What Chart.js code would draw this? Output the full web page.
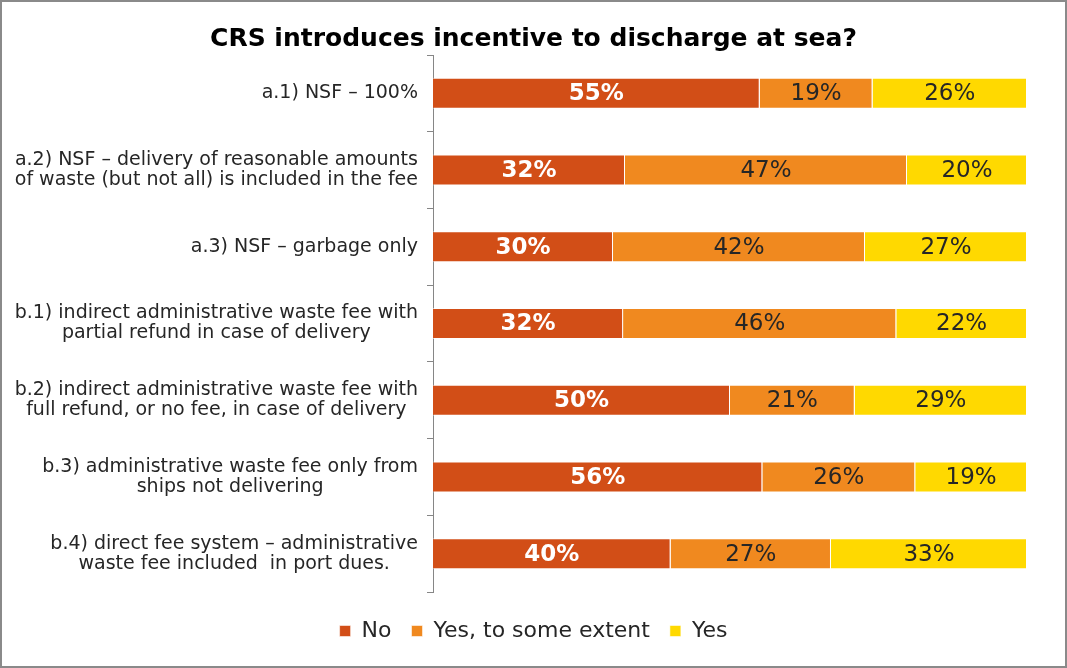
<!DOCTYPE html>
<html>
<head>
<meta charset="utf-8">
<script src="https://cdn.jsdelivr.net/npm/chart.js@4"></script>
<style>
  html, body { margin: 0; padding: 0; background: #fff; }
  #frame {
    width: 1067px; height: 668px; box-sizing: border-box;
    border: 2px solid #8a8a8a; background: #fff; position: relative;
  }
  #wrap { width: 1063px; height: 664px; position: relative; }
</style>
</head>
<body>
<div id="frame"><div id="wrap"><canvas id="chart"></canvas></div></div>
<script>
// categories (multi-line labels) and the percentages shown on the bars
const categories = [
    ['a.1) NSF – 100%'],
    ['a.2) NSF – delivery of reasonable amounts', 'of waste (but not all) is included in the fee'],
    ['a.3) NSF – garbage only'],
    ['b.1) indirect administrative waste fee with', 'partial refund in case of delivery'],
    ['b.2) indirect administrative waste fee with', 'full refund, or no fee, in case of delivery'],
    ['b.3) administrative waste fee only from', 'ships not delivering'],
    ['b.4) direct fee system – administrative', 'waste fee included  in port dues.']
];
const seriesNames = ['No', 'Yes, to some extent', 'Yes'];
const noValues = [55, 32, 30, 32, 50, 56, 40];
const someValues = [19, 47, 42, 46, 21, 26, 27];
const yesValues = [26, 20, 27, 22, 29, 19, 33];
const colors = ['#d24e17', '#f0891f', '#ffd900'];

const FONT = 'Verdana, "DejaVu Sans", sans-serif';
const raw = [noValues, someValues, yesValues];

// each row is drawn as a 100% bar, so scale by the row total
const totals = noValues.map((v, i) => v + someValues[i] + yesValues[i]);

const datasets = raw.map((vals, k) => ({
    label: seriesNames[k],
    data: vals.map((v, i) => v / totals[i] * 100),
    shown: vals,
    backgroundColor: colors[k],
    borderColor: 'rgba(255,255,255,0.55)',
    borderWidth: 1,
    categoryPercentage: 1,
    barPercentage: 0.404
}));

// draws percentages inside the bar segments
const barLabels = {
    id: 'barLabels',
    afterDatasetsDraw(chart) {
        const ctx = chart.ctx;
        ctx.save();
        ctx.textAlign = 'center';
        ctx.textBaseline = 'middle';
        chart.data.datasets.forEach((ds, k) => {
            const meta = chart.getDatasetMeta(k);
            ctx.font = (k === 0 ? 'bold ' : '') + '23px ' + FONT;
            ctx.fillStyle = k === 0 ? '#ffffff' : '#262626';
            meta.data.forEach((bar, i) => {
                const cx = (bar.x + bar.base) / 2;
                ctx.fillText(ds.shown[i] + '%', cx, bar.y + 1);
            });
        });
        ctx.restore();
    }
};

// category labels: block right aligned to the axis, lines centred inside it
const categoryLabels = {
    id: 'categoryLabels',
    afterDraw(chart) {
        const ctx = chart.ctx;
        const y = chart.scales.y;
        const right = chart.chartArea.left - 15;
        const lineH = 20;
        ctx.save();
        ctx.font = '19px ' + FONT;
        ctx.fillStyle = '#262626';
        ctx.textAlign = 'center';
        ctx.textBaseline = 'middle';
        categories.forEach((lines, i) => {
            const w = Math.max(...lines.map(l => ctx.measureText(l).width));
            const cx = right - w / 2;
            const cy = y.getPixelForValue(i);
            const top = cy - (lines.length - 1) * lineH / 2;
            lines.forEach((l, j) => ctx.fillText(l, cx, top + j * lineH));
        });
        ctx.restore();
    }
};

new Chart(document.getElementById('chart'), {
    type: 'bar',
    data: { labels: categories, datasets: datasets },
    options: {
        indexAxis: 'y',
        responsive: true,
        maintainAspectRatio: false,
        animation: false,
        layout: { padding: { left: 0, right: 0, top: 0, bottom: 14 } },
        scales: {
            x: {
                stacked: true, min: 0, max: 100,
                afterFit: s => { s.height = 8; },
                ticks: { display: false },
                grid: { display: false },
                border: { display: false }
            },
            y: {
                stacked: true,
                afterFit: s => { s.width = 431; },
                ticks: { display: false },
                grid: {
                    drawOnChartArea: false,
                    offset: true,
                    tickLength: 6,
                    color: '#868686'
                },
                border: { display: true, color: '#868686', width: 1 }
            },
            // empty right-hand axis, only to leave the white margin
            yRight: {
                type: 'category',
                position: 'right',
                afterFit: s => { s.width = 38; },
                ticks: { display: false },
                grid: { display: false },
                border: { display: false }
            }
        },
        plugins: {
            title: {
                display: true,
                text: 'CRS introduces incentive to discharge at sea?',
                color: '#000',
                font: { family: FONT, size: 25, weight: 'bold' },
                padding: { top: 22, bottom: 1 }
            },
            legend: {
                position: 'bottom',
                labels: {
                    boxWidth: 11,
                    boxHeight: 11,
                    padding: 20,
                    color: '#262626',
                    font: { family: FONT, size: 22 }
                }
            },
            tooltip: { enabled: false }
        }
    },
    plugins: [barLabels, categoryLabels]
});
</script>
</body>
</html>
